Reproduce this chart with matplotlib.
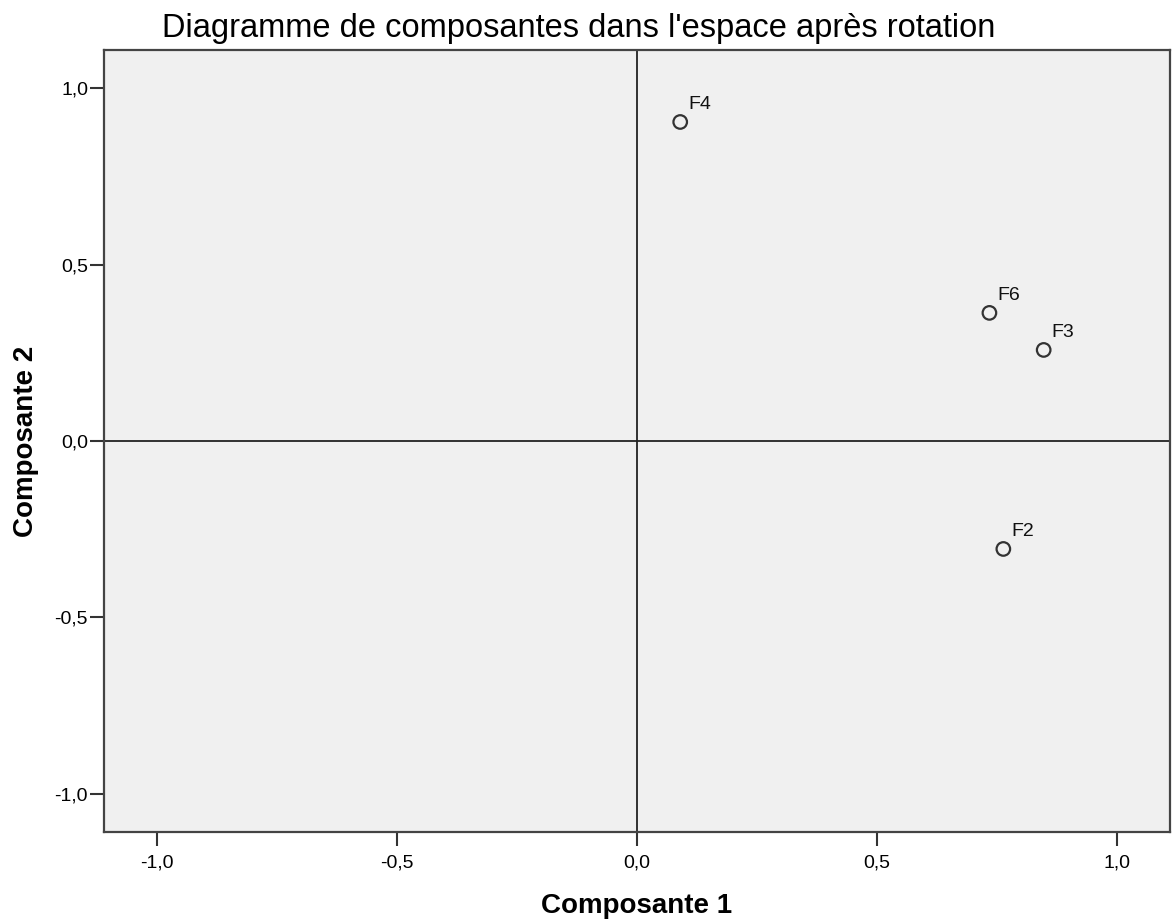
import matplotlib
matplotlib.use("Agg")
import matplotlib.pyplot as plt

plt.rcParams['font.family'] = ['Liberation Sans', 'DejaVu Sans']

# composantes après rotation
noms = ["F4", "F6", "F3", "F2"]
comp1 = [0.090, 0.734, 0.847, 0.763]
comp2 = [0.904, 0.363, 0.258, -0.306]

ticks = [-1.0, -0.5, 0.0, 0.5, 1.0]
tick_labels = ["-1,0", "-0,5", "0,0", "0,5", "1,0"]

fig = plt.figure(figsize=(11.73, 9.24), dpi=100)
ax = fig.add_axes([0.0887, 0.0996, 0.9087, 0.8463])
ax.set_facecolor("#f0f0f0")

# lignes de référence
ax.axhline(0, color="#222222", lw=1.3, zorder=1)
ax.axvline(0, color="#222222", lw=1.3, zorder=1)

ax.scatter(comp1, comp2, s=95, facecolors="none", edgecolors="#333333", linewidths=1.6, zorder=3)
for nom, x, y in zip(noms, comp1, comp2):
    ax.annotate(nom, (x, y), xytext=(8, 13), textcoords="offset pixels",
                fontsize=14, color="#111111")

ax.set_xlim(-1.11, 1.11)
ax.set_ylim(-1.108, 1.108)
ax.set_xticks(ticks)
ax.set_xticklabels(tick_labels)
ax.set_yticks(ticks)
ax.set_yticklabels(tick_labels)
ax.tick_params(length=10, width=1.5, color="#333333", labelsize=14)
ax.tick_params(axis="x", pad=6)
ax.tick_params(axis="y", pad=1.5)

for sp in ax.spines.values():
    sp.set_color("#444444")
    sp.set_linewidth(1.6)

fig.text(162 / 1173, 887 / 924, "Diagramme de composantes dans l'espace après rotation",
         fontsize=23.5, ha="left", va="baseline")
ax.set_xlabel("Composante 1", fontsize=20, fontweight="bold", labelpad=16)
ax.set_ylabel("Composante 2", fontsize=20, fontweight="bold", labelpad=11)

fig.savefig("out.png", dpi=100)
